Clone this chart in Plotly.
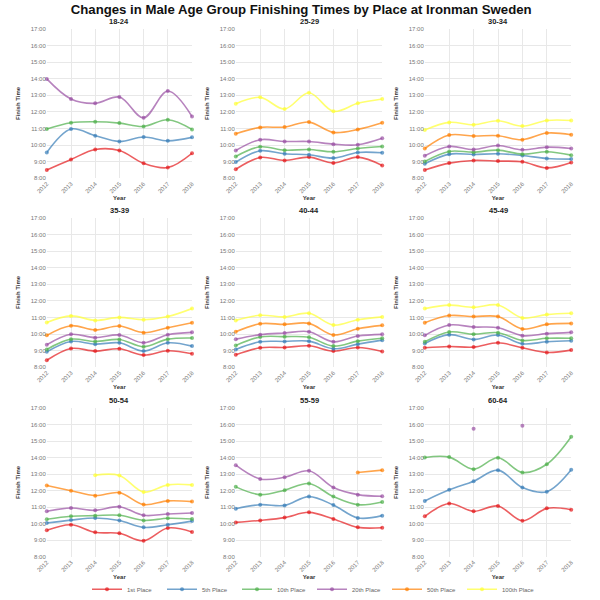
import plotly.graph_objects as go

# years on the x axis
years = [2012, 2013, 2014, 2015, 2016, 2017, 2018]

age_groups = ["18-24", "25-29", "30-34", "35-39", "40-44", "45-49", "50-54", "55-59", "60-64"]
places = ["1st Place", "5th Place", "10th Place", "20th Place", "50th Place", "100th Place"]

# finish times in decimal hours, one list per place, per age group
times_18_24 = [
    [8.50, 9.13, 9.73, 9.67, 8.90, 8.64, 9.50],
    [9.55, 10.96, 10.56, 10.21, 10.48, 10.25, 10.46],
    [10.96, 11.34, 11.40, 11.32, 11.12, 11.52, 10.94],
    [13.98, 12.77, 12.51, 12.89, 11.64, 13.25, 11.72],
    None,
    None,
]
times_25_29 = [
    [8.54, 9.25, 9.07, 9.27, 8.91, 9.27, 8.77],
    [8.97, 9.65, 9.47, 9.41, 9.21, 9.55, 9.53],
    [9.31, 9.89, 9.69, 9.73, 9.59, 9.79, 9.91],
    [9.67, 10.32, 10.21, 10.21, 10.05, 10.01, 10.40],
    [10.68, 11.06, 11.08, 11.38, 10.76, 10.94, 11.34],
    [12.49, 12.87, 12.17, 13.15, 12.03, 12.51, 12.77],
]
times_30_34 = [
    [8.50, 8.91, 9.07, 9.03, 8.99, 8.62, 8.95],
    [8.87, 9.45, 9.43, 9.47, 9.37, 9.19, 9.15],
    [9.01, 9.61, 9.57, 9.69, 9.45, 9.59, 9.39],
    [9.35, 9.91, 9.73, 9.97, 9.71, 9.87, 9.79],
    [9.79, 10.60, 10.54, 10.56, 10.32, 10.72, 10.62],
    [10.90, 11.36, 11.22, 11.46, 11.14, 11.48, 11.48],
]
times_35_39 = [
    [8.42, 9.13, 8.97, 9.11, 8.73, 8.99, 8.81],
    [8.93, 9.55, 9.39, 9.47, 8.97, 9.47, 9.27],
    [9.07, 9.69, 9.55, 9.67, 9.23, 9.69, 9.76],
    [9.35, 9.98, 9.78, 9.94, 9.47, 9.96, 10.10],
    [9.92, 10.50, 10.24, 10.48, 10.08, 10.38, 10.68],
    [10.70, 11.09, 10.82, 11.00, 10.86, 11.05, 11.53],
]
times_40_44 = [
    [8.75, 9.17, 9.19, 9.29, 8.97, 9.19, 8.95],
    [9.07, 9.53, 9.55, 9.57, 9.11, 9.39, 9.63],
    [9.31, 9.82, 9.84, 9.80, 9.27, 9.57, 9.74],
    [9.69, 9.96, 10.06, 10.14, 9.53, 9.88, 9.98],
    [10.14, 10.62, 10.58, 10.64, 9.94, 10.32, 10.52],
    [10.82, 11.13, 11.03, 11.25, 10.54, 10.86, 11.03],
]
times_45_49 = [
    [9.17, 9.25, 9.21, 9.47, 9.17, 8.89, 9.03],
    [9.43, 9.96, 9.67, 9.94, 9.41, 9.53, 9.59],
    [9.53, 10.12, 9.99, 10.08, 9.61, 9.74, 9.74],
    [9.92, 10.54, 10.42, 10.38, 9.90, 10.02, 10.10],
    [10.68, 11.11, 11.05, 11.05, 10.30, 10.58, 10.64],
    [11.53, 11.74, 11.61, 11.75, 10.97, 11.17, 11.25],
]
times_50_54 = [
    [9.60, 9.94, 9.48, 9.42, 8.97, 9.74, 9.50],
    [10.04, 10.22, 10.35, 10.20, 9.78, 9.94, 10.16],
    [10.27, 10.45, 10.49, 10.51, 10.20, 10.33, 10.29],
    [10.75, 10.95, 10.81, 11.03, 10.51, 10.59, 10.65],
    [12.31, 12.00, 11.70, 11.88, 11.16, 11.38, 11.34],
    [None, None, 12.94, 12.92, 11.92, 12.35, 12.35],
]
times_55_59 = [
    [10.08, 10.20, 10.37, 10.69, 10.29, 9.78, 9.76],
    [10.91, 11.15, 11.11, 11.64, 11.13, 10.35, 10.49],
    [12.23, 11.76, 12.03, 12.43, 11.64, 11.15, 11.32],
    [13.54, 12.71, 12.81, 13.20, 12.19, 11.76, 11.66],
    [None, None, None, None, None, 13.10, 13.24],
    None,
]
times_60_64 = [
    [10.45, 11.22, 10.75, 11.07, 10.18, 10.93, 10.85],
    [11.38, 12.05, 12.57, 13.24, 12.19, 11.94, 13.26],
    [14.01, 14.03, 13.30, 13.99, 13.10, 13.60, 15.26],
    [None, None, 15.75, None, 15.93, None, None],
    None,
    None,
]

all_times = [times_18_24, times_25_29, times_30_34, times_35_39, times_40_44,
             times_45_49, times_50_54, times_55_59, times_60_64]

hour_ticks = list(range(8, 18))
hour_labels = [f"{h}:00" for h in hour_ticks]

COLORS = [
    "rgba(228,26,28,0.7)", "rgba(55,126,184,0.7)", "rgba(77,175,74,0.7)",
    "rgba(152,78,163,0.7)", "rgba(255,127,0,0.7)", "rgba(255,255,51,0.7)",
]
FONT = "Liberation Sans, Arial, sans-serif"

col_domains = [(0.078, 0.32), (0.393, 0.637), (0.708, 0.952)]
row_domains = [(0.703, 0.952), (0.388, 0.637), (0.072, 0.32)]

fig = go.Figure()
annotations = []

for i, (group, series) in enumerate(zip(age_groups, all_times)):
    n = i + 1
    row, col = divmod(i, 3)
    xa = "x" if n == 1 else f"x{n}"
    ya = "y" if n == 1 else f"y{n}"
    for p, vals in enumerate(series):
        if vals is None:
            continue
        fig.add_trace(go.Scatter(
            x=years, y=vals, name=places[p],
            mode="lines+markers", line=dict(shape="spline", width=1.6, color=COLORS[p]),
            marker=dict(size=4, color=COLORS[p]), cliponaxis=False,
            showlegend=False, xaxis=xa, yaxis=ya,
        ))
    axis_common = dict(
        showgrid=True, gridcolor="#e8e8e8", gridwidth=1, zeroline=False,
        tickfont=dict(size=6, color="#777", family=FONT), showline=False,
    )
    fig.layout[f"xaxis{n}"] = dict(
        axis_common, domain=col_domains[col], anchor=ya, range=[2012, 2018],
        tickvals=years, tickangle=-45,
        title=dict(text="<b>Year</b>", font=dict(size=6, color="#333", family=FONT), standoff=2),
    )
    fig.layout[f"yaxis{n}"] = dict(
        axis_common, domain=row_domains[row], anchor=xa, range=[8, 17],
        tickvals=hour_ticks, ticktext=hour_labels,
        title=dict(text="<b>Finish Time</b>", font=dict(size=6, color="#333", family=FONT), standoff=9),
    )
    annotations.append(dict(
        text=f"<b>{group}</b>", xref="paper", yref="paper",
        x=sum(col_domains[col]) / 2, y=row_domains[row][1] + 0.001,
        xanchor="center", yanchor="bottom", showarrow=False,
        font=dict(size=7.5, color="#222", family=FONT),
    ))

# one legend entry per place
for p, place in enumerate(places):
    fig.add_trace(go.Scatter(
        x=[None], y=[None], name=place, mode="lines+markers",
        line=dict(width=1.6, color=COLORS[p]), marker=dict(size=4, color=COLORS[p]),
        xaxis="x", yaxis="y", showlegend=True,
    ))

fig.update_layout(
    width=600, height=600,
    margin=dict(l=0, r=0, t=0, b=0, autoexpand=False),
    paper_bgcolor="white", plot_bgcolor="white",
    title=dict(
        text="<b>Changes in Male Age Group Finishing Times by Place at Ironman Sweden</b>",
        x=0.502, xanchor="center", y=0.985, yanchor="middle",
        font=dict(size=13.2, color="#111", family=FONT),
    ),
    annotations=annotations,
    legend=dict(
        orientation="h", x=0.52, xanchor="center", y=0.018, yanchor="middle",
        font=dict(size=6, color="#666", family=FONT), entrywidth=30,
    ),
    font=dict(family=FONT),
)

# drop the default page margin so the 600x600 figure fills the window
fig.write_html(
    "out.html",
    config={"displayModeBar": False},
    post_script="document.body.style.margin='0';",
)
